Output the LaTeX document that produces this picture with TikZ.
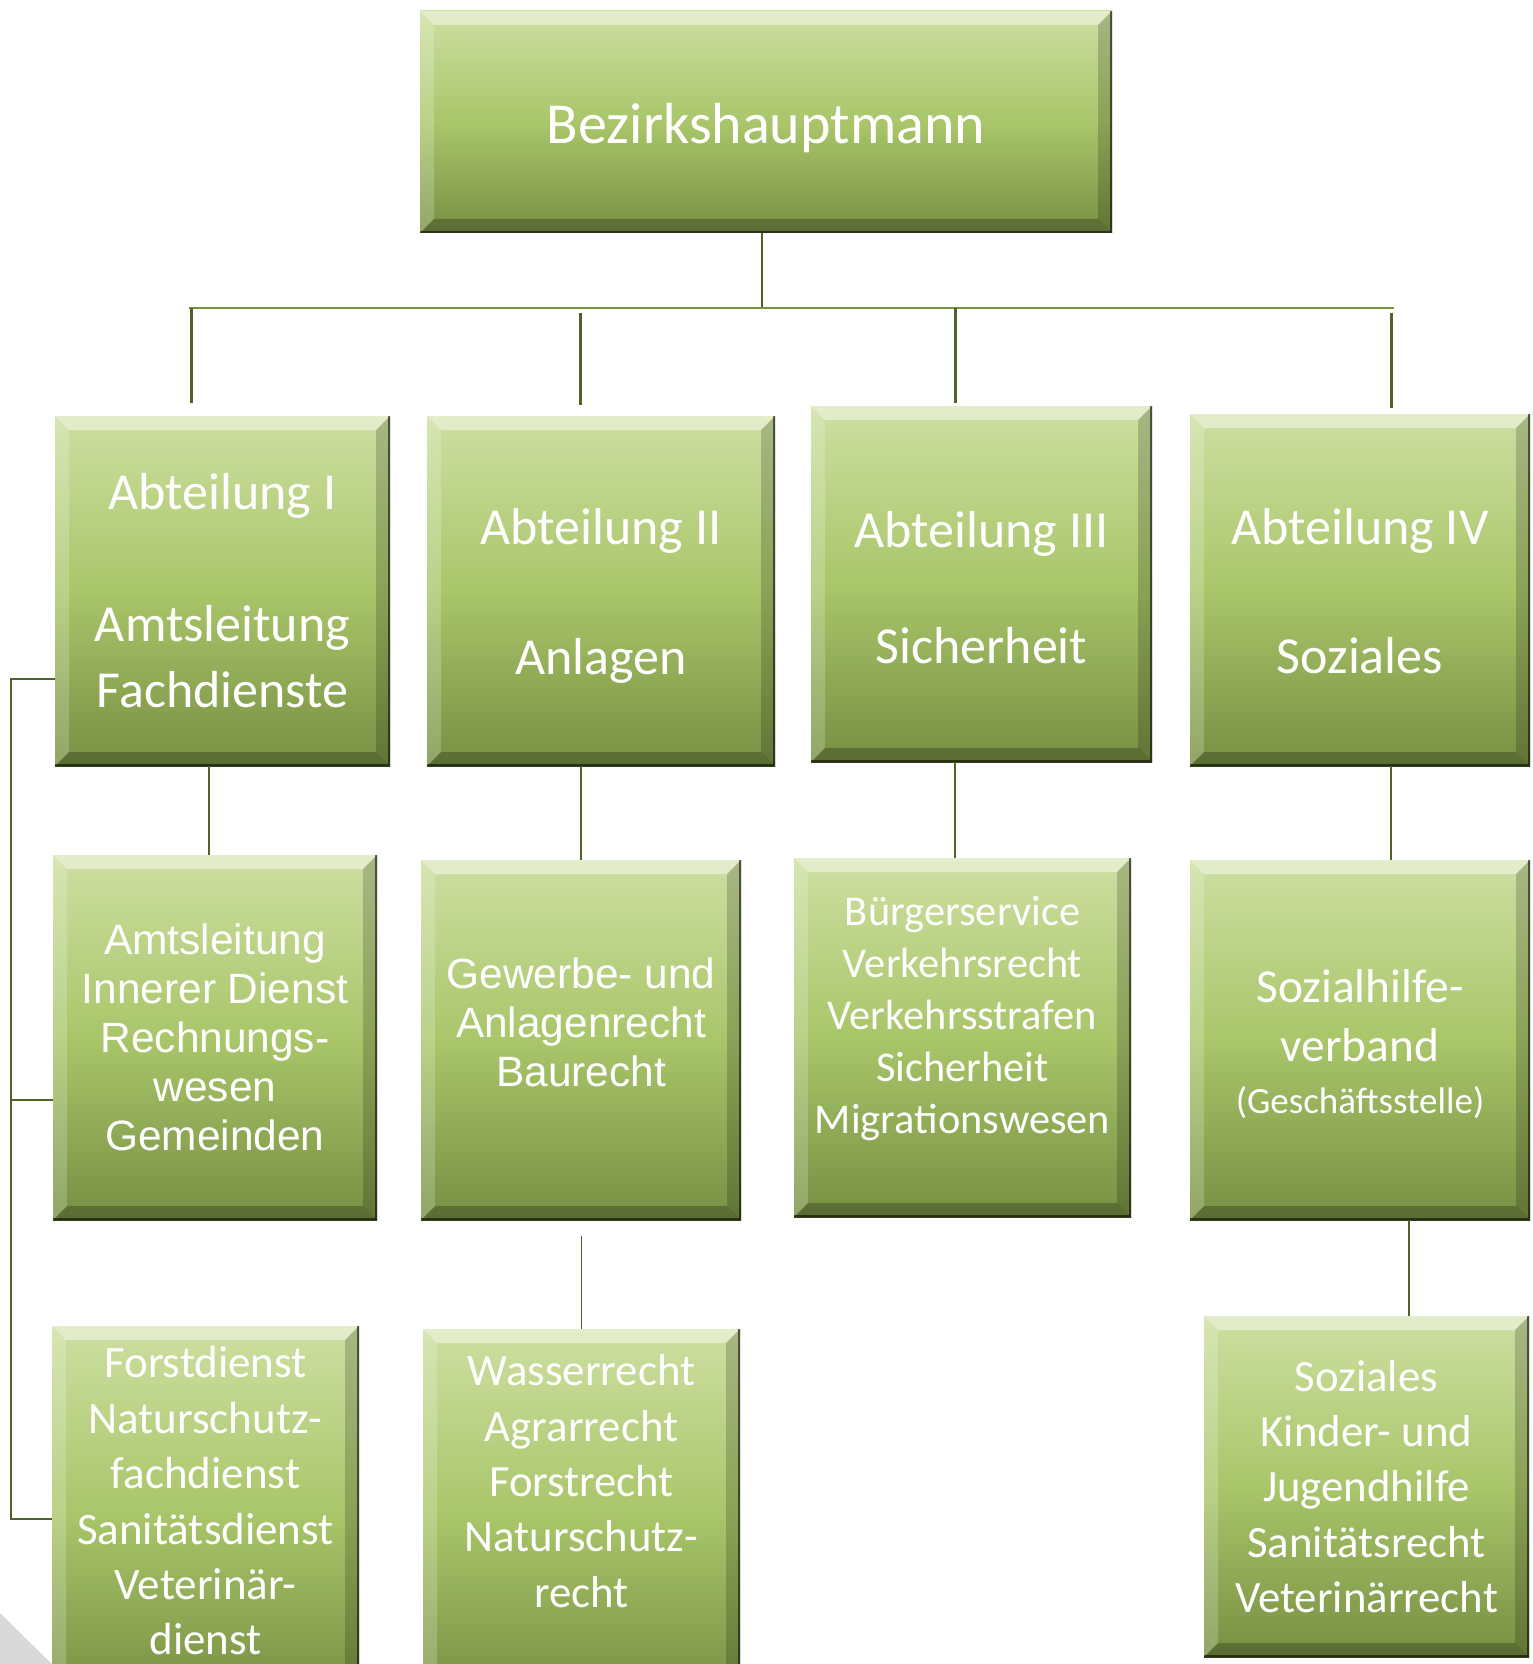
\documentclass[tikz,border=0pt]{standalone}
\usepackage{fontspec}
\setmainfont{Carlito}
\newfontfamily\arialf{Liberation Sans}
\definecolor{gtop}{HTML}{CDDFA1}
\definecolor{gmid}{HTML}{A9C66A}
\definecolor{gbot}{HTML}{778F42}
\definecolor{lineA}{HTML}{77933C}
\definecolor{lineB}{HTML}{4F6228}
\definecolor{greytri}{HTML}{D9D9D9}
\newcommand\bv{7pt}
\tikzset{
  gbox/.style={rectangle, inner sep=0pt, outer sep=0pt,
    top color=gtop, bottom color=gbot, middle color=gmid,
    path picture={
      \path (path picture bounding box.north west) coordinate (pNW)
            (path picture bounding box.north east) coordinate (pNE)
            (path picture bounding box.south west) coordinate (pSW)
            (path picture bounding box.south east) coordinate (pSE);
      \fill[white, opacity=.45] (pNW) -- (pNE) -- ([shift={(-\bv,-\bv)}]pNE) -- ([shift={(\bv,-\bv)}]pNW) -- cycle;
      \fill[white, opacity=.2] (pNW) -- ([shift={(\bv,-\bv)}]pNW) -- ([shift={(\bv,\bv)}]pSW) -- (pSW) -- cycle;
      \fill[black, opacity=.18] (pNE) -- ([shift={(-\bv,-\bv)}]pNE) -- ([shift={(-\bv,\bv)}]pSE) -- (pSE) -- cycle;
      \fill[black, opacity=.24] (pSW) -- ([shift={(\bv,\bv)}]pSW) -- ([shift={(-\bv,\bv)}]pSE) -- (pSE) -- cycle;
      \draw[black, opacity=.55, line width=2pt] (pNE) -- (pSE) -- (pSW);
    }},
  txt/.style={text=white, align=center, inner sep=0pt},
  bus/.style={draw=lineA, line width=1pt},
  drop/.style={draw=lineB, line width=1.5pt},
  conn/.style={draw=lineB, line width=0.8pt},
  thinconn/.style={draw=lineB, line width=0.5pt},
}
\newcommand\gbx[5]{\node[gbox, minimum width={(#4-#2)*0.5pt}, minimum height={(#5-#3)*0.5pt}] (#1) at ({(#2+#4)/2},{(#3+#5)/2}) {};}
\begin{document}
\begin{tikzpicture}[x=0.5pt, y=-0.5pt]
\path[use as bounding box] (0,0) rectangle (1532,1664);
\clip (0,0) rectangle (1532,1664);
\fill[white] (0,0) rectangle (1532,1664);
\fill[greytri] (0,1613) -- (60,1672) -- (0,1672) -- cycle;

% coordinates for connectors
\coordinate (busL) at (189,308);
\coordinate (busR) at (1394,308);
\coordinate (d1) at (191,403);
\coordinate (d2) at (580,405);
\coordinate (d2s) at (580,313);
\coordinate (d3) at (955,403);
\coordinate (d4) at (1391,408);
\coordinate (d4s) at (1391,313);
\coordinate (xA) at (209,0);
\coordinate (xB) at (581,0);
\coordinate (xC) at (955,0);
\coordinate (xD) at (1391,0);
\coordinate (xE) at (1409,0);
\coordinate (w2s) at (581,1236);
\coordinate (lb1) at (11,679);
\coordinate (lb2) at (11,1100);
\coordinate (lb3) at (11,1519);

% boxes
\gbx{top}{420}{11}{1112}{233}
\gbx{b1}{55}{416}{390}{766}
\gbx{b2}{427}{416}{775}{766}
\gbx{b3}{811}{406}{1152}{762}
\gbx{b4}{1190}{414}{1530}{766}
\gbx{c1}{53}{855}{377}{1220}
\gbx{c2}{421}{860}{741}{1220}
\gbx{c3}{794}{858}{1131}{1217}
\gbx{c4}{1190}{860}{1530}{1220}
\gbx{f1}{52}{1326}{359}{1700}
\gbx{f2}{423}{1329}{740}{1700}
\gbx{f4}{1204}{1316}{1529}{1657}

% texts
\node[txt, font={\fontsize{29}{35}\selectfont}] (ttop) at ([yshift=-3pt]top.center) {Bezirkshauptmann};
\node[txt, font={\fontsize{26}{33}\selectfont}] (tb1) at (b1.center) {Abteilung I\\[33pt]Amtsleitung\\Fachdienste};
\node[txt, font={\fontsize{26}{32.6}\selectfont}] (tb2) at ([yshift=-2.5pt]b2.center) {Abteilung II\\[32.6pt]Anlagen};
\node[txt, font={\fontsize{26}{29}\selectfont}] (tb3) at ([yshift=-2pt]b3.center) {Abteilung III\\[29pt]Sicherheit};
\node[txt, font={\fontsize{26}{32.4}\selectfont}] (tb4) at ([yshift=-0.5pt]b4.center) {Abteilung IV\\[32.4pt]Soziales};
\node[txt, font={\arialf\fontsize{21.2}{24.5}\selectfont}] (tc1) at (c1.center) {Amtsleitung\\Innerer Dienst\\Rechnungs-\\wesen\\Gemeinden};
\node[txt, font={\arialf\fontsize{21.2}{24.5}\selectfont}] (tc2) at ([yshift=8.75pt]c2.center) {Gewerbe- und\\Anlagenrecht\\Baurecht};
\node[txt, font={\fontsize{21.2}{26}\selectfont}] (tc3) at ([yshift=9.5pt]c3.center) {Bürgerservice\\Verkehrsrecht\\Verkehrsstrafen\\Sicherheit\\Migrationswesen};
\node[txt, font={\fontsize{23.7}{29.7}\selectfont}] (tc4) at ([yshift=-2pt]c4.center) {Sozialhilfe-\\verband\\[-3.7pt]{\fontsize{18.5}{26}\selectfont(Geschäftsstelle)}};
\node[txt, font={\fontsize{22.5}{27.7}\selectfont}] (tf1) at ([yshift=-87.5pt]f1.north) {Forstdienst\\Naturschutz-\\fachdienst\\Sanitätsdienst\\Veterinär-\\dienst};
\node[txt, font={\fontsize{22.4}{27.7}\selectfont}] (tf2) at ([yshift=-76pt]f2.north) {Wasserrecht\\Agrarrecht\\Forstrecht\\Naturschutz-\\recht};
\node[txt, font={\fontsize{22.4}{27.7}\selectfont}] (tf4) at (f4.center) {Soziales\\Kinder- und\\Jugendhilfe\\Sanitätsrecht\\Veterinärrecht};

% connectors
\draw[conn] ([xshift=-2pt]top.south) -- ([xshift=-2pt]top.south |- busL);
\draw[bus] (busL) -- (busR);
\draw[drop] (d1 |- busL) -- (d1);
\draw[drop] (d2s) -- (d2);
\draw[drop] (d3 |- busL) -- (d3);
\draw[drop] (d4s) -- (d4);
\draw[conn] (b1.south -| xA) -- (c1.north -| xA);
\draw[conn] (b2.south -| xB) -- (c2.north -| xB);
\draw[conn] (b3.south -| xC) -- (c3.north -| xC);
\draw[conn] (b4.south -| xD) -- (c4.north -| xD);
\draw[thinconn] (w2s) -- (f2.north -| w2s);
\draw[conn] (c4.south -| xE) -- (f4.north -| xE);
\draw[conn] (b1.west |- lb1) -- (lb1) -- (lb3) -- (f1.west |- lb3);
\draw[conn] (lb2) -- (c1.west |- lb2);
\end{tikzpicture}
\end{document}
